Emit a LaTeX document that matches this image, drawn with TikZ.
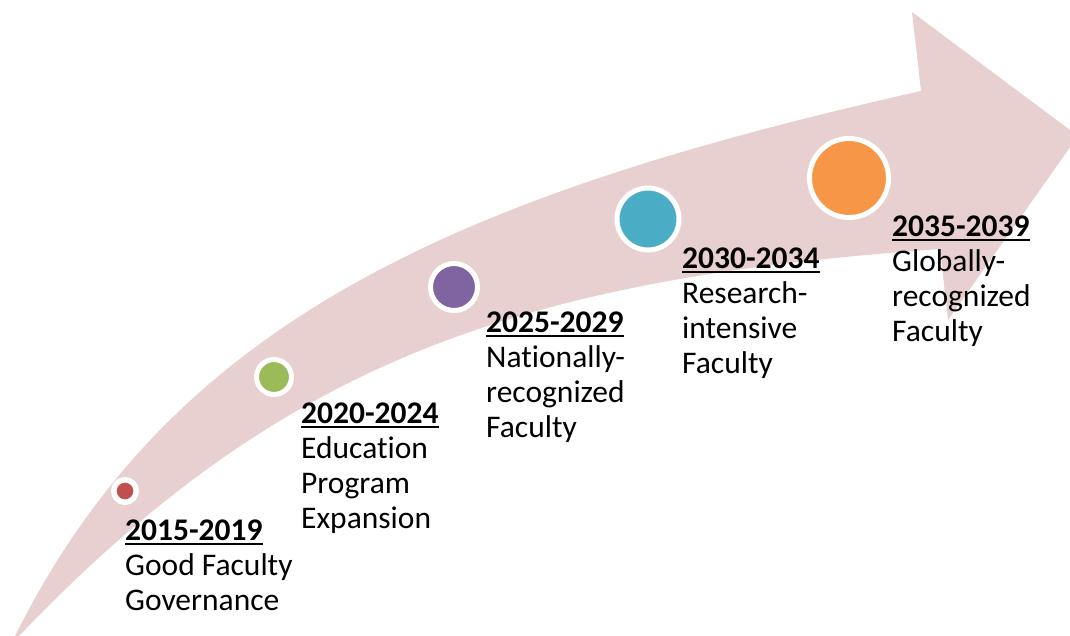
\documentclass[tikz,border=0pt]{standalone}
\usepackage{fontspec}
\setmainfont[Ligatures=NoCommon]{Carlito}
\newcommand\yrline[1]{{\bfseries\setbox0\hbox{#1}\rlap{\vrule width\wd0 height -2.6pt depth 4.6pt}\box0}}
\newcommand\stage[2]{\vtop{\fontsize{31.5}{35.2}\selectfont\hbox{\yrline{#1}}#2}}
\definecolor{bandpink}{HTML}{E8D0D1}
\definecolor{dotred}{HTML}{C0504D}
\definecolor{dotgreen}{HTML}{9BBB59}
\definecolor{dotpurple}{HTML}{8064A2}
\definecolor{dotteal}{HTML}{4BACC6}
\definecolor{dotorange}{HTML}{F79646}
\tikzset{
  dot/.style={circle, draw=white, inner sep=0pt, line width=5pt},
  stagetext/.style={anchor=base west, inner sep=0pt, text=black}
}
\begin{document}
\begin{tikzpicture}[x=1pt,y=-1pt]
\useasboundingbox (0,0) rectangle (1070,635);
\begin{scope}
\clip (0,0) rectangle (1070,635);
\fill[bandpink]
  (15,636) .. controls (173,319) and (459,195) .. (921,91)
  -- (912,12) -- (1078,136) -- (948,320) -- (940,249)
  .. controls (520,279) and (283,360) .. (19,636)
  -- cycle;
\end{scope}
\node[dot, fill=dotred, line width=5.5pt, minimum size=22.5pt] (c1) at (125,491) {};
\node[dot, fill=dotgreen, minimum size=35pt] (c2) at (274,377) {};
\node[dot, fill=dotpurple, minimum size=47pt] (c3) at (454,287) {};
\node[dot, fill=dotteal, minimum size=62pt] (c4) at (648,219) {};
\node[dot, fill=dotorange, minimum size=79pt] (c5) at (849,178) {};
\node[stagetext] (t1) at (125,540) {\stage{2015-2019}{\hbox{Good Faculty}\hbox{Governance}}};
\node[stagetext] (t2) at (301,423) {\stage{2020-2024}{\hbox{Education}\hbox{Program}\hbox{Expansion}}};
\node[stagetext] (t3) at (486,332) {\stage{2025-2029}{\hbox{Nationally-}\hbox{recognized}\hbox{Faculty}}};
\node[stagetext] (t4) at (682,268) {\stage{2030-2034}{\hbox{Research-}\hbox{intensive}\hbox{Faculty}}};
\node[stagetext] (t5) at (892,236) {\stage{2035-2039}{\hbox{Globally-}\hbox{recognized}\hbox{Faculty}}};
\end{tikzpicture}
\end{document}
